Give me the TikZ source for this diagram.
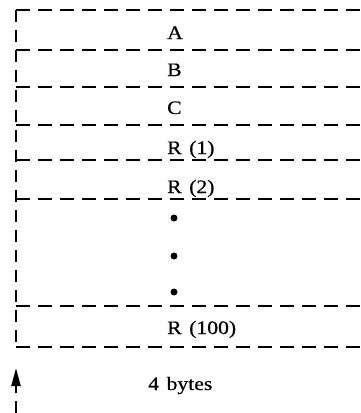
\documentclass[tikz,border=0pt]{standalone}
\usepackage{fontspec}
\setmainfont{Liberation Serif}[FakeStretch=1.14, WordSpace=1.4, FakeBold=0.6]
\usetikzlibrary{arrows.meta}
\begin{document}
\begin{tikzpicture}[x=1pt,y=-1pt,
  rowline/.style={line width=2.2pt, dash pattern=on 14pt off 8pt},
  sideline/.style={line width=2.2pt, dash pattern=on 12pt off 8pt},
  lab/.style={anchor=base west, inner sep=0pt, font=\fontsize{19}{19}\selectfont},
  dotnode/.style={circle, fill=black, inner sep=0pt, minimum size=7pt},
]
\useasboundingbox (0,0) rectangle (361,413);
% corners of the column
\coordinate (tl) at (16,10);
\coordinate (tr) at (361,10);
\coordinate (bl) at (16,347);
\coordinate (br) at (361,347);
% row separators
\foreach \n/\y in {1/50,2/87,3/125,4/160,5/199,6/306}{
  \coordinate (l\n) at (16,\y);
  \coordinate (r\n) at (361,\y);
  \draw[rowline] (l\n) -- (r\n);
}
\draw[rowline] (tl) -- (tr);
\draw[rowline] (bl) -- (br);
\draw[sideline] (tl) -- (bl);
% labels
\node[lab] (A) at (167,39) {A};
\node[lab] (B) at (167,76) {B};
\node[lab] (C) at (167,114) {C};
\node[lab] (R1) at (167,154) {R (1)};
\node[lab] (R2) at (167,193) {R (2)};
\node[dotnode] (d1) at (174,218) {};
\node[dotnode] (d2) at (174,256) {};
\node[dotnode] (d3) at (174,292) {};
\node[lab] (R100) at (167,334) {R (100)};
\node[lab] (bytes) at (148,390) {4 bytes};
% arrow
\coordinate (abot) at (16,413);
\coordinate (atop) at (16,368);
\draw[sideline, -{Triangle[length=18pt,width=9pt]}] (abot) -- (atop);
\end{tikzpicture}
\end{document}
